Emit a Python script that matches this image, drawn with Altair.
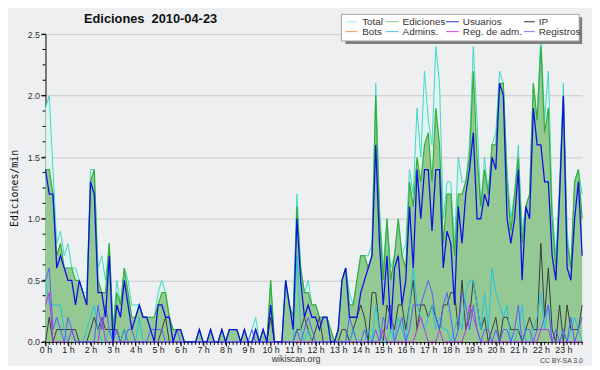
import altair as alt
import pandas as pd

# ---- data: edits per minute, one value per 10-minute slot (24 h x 6) ----
hour_labels = [f"{h} h" for h in range(24)]
y_ticks = [0.0, 0.5, 1.0, 1.5, 2.0, 2.5]

total = [
    1.9, 2.0, 1.4, 0.8, 0.9, 0.7,
    0.8, 0.6, 0.6, 0.5, 0.4, 0.4,
    1.4, 1.4, 0.6, 0.7, 0.5, 0.8,
    0.1, 0.5, 0.3, 0.6, 0.5, 0.3,
    0.3, 0.3, 0.2, 0.2, 0.2, 0.2,
    0.4, 0.5, 0.4, 0.2, 0.1, 0.1,
    0.1, 0.0, 0.0, 0.0, 0.0, 0.1,
    0.0, 0.0, 0.1, 0.0, 0.0, 0.1,
    0.0, 0.1, 0.1, 0.1, 0.0, 0.1,
    0.0, 0.1, 0.2, 0.0, 0.1, 0.0,
    0.5, 0.0, 0.0, 0.0, 0.5, 0.3,
    0.2, 1.2, 0.6, 0.4, 0.5, 0.3,
    0.3, 0.2, 0.2, 0.2, 0.1, 0.0,
    0.1, 0.5, 0.6, 0.4, 0.3, 0.5,
    0.7, 0.7, 0.7, 0.8, 2.1, 1.1,
    0.6, 1.0, 0.6, 0.7, 1.0, 0.7,
    0.8, 1.4, 1.2, 1.9, 1.5, 2.2,
    1.8, 1.6, 2.4, 2.1, 1.0, 1.3,
    1.3, 0.8, 1.5, 1.3, 1.3, 1.6,
    2.4, 1.8, 1.1, 1.5, 1.2, 1.6,
    1.7, 2.2, 2.1, 1.4, 1.0, 1.2,
    1.6, 0.9, 1.1, 1.2, 2.1, 1.8,
    2.5, 1.8, 2.2, 1.1, 0.7, 1.3,
    2.1, 0.9, 0.6, 1.3, 1.4, 1.2,
]

ediciones = [
    1.4, 1.4, 1.2, 0.7, 0.8, 0.6,
    0.6, 0.6, 0.5, 0.5, 0.4, 0.3,
    1.3, 1.4, 0.5, 0.4, 0.4, 0.8,
    0.1, 0.4, 0.3, 0.6, 0.4, 0.2,
    0.2, 0.3, 0.2, 0.2, 0.2, 0.2,
    0.3, 0.4, 0.4, 0.2, 0.1, 0.1,
    0.1, 0.0, 0.0, 0.0, 0.0, 0.1,
    0.0, 0.0, 0.1, 0.0, 0.0, 0.1,
    0.0, 0.1, 0.1, 0.1, 0.0, 0.1,
    0.0, 0.0, 0.1, 0.0, 0.1, 0.0,
    0.5, 0.0, 0.0, 0.0, 0.5, 0.3,
    0.2, 1.1, 0.6, 0.4, 0.4, 0.3,
    0.3, 0.2, 0.2, 0.2, 0.1, 0.0,
    0.1, 0.5, 0.6, 0.3, 0.3, 0.5,
    0.7, 0.7, 0.6, 0.7, 2.0, 1.0,
    0.5, 1.0, 0.5, 0.7, 1.0, 0.7,
    0.6, 1.3, 1.1, 1.5, 1.3, 1.6,
    1.7, 1.3, 1.9, 1.6, 0.8, 1.2,
    1.2, 0.7, 1.2, 1.2, 1.3, 1.5,
    2.2, 1.5, 1.1, 1.4, 1.2, 1.6,
    1.6, 2.1, 2.1, 1.3, 0.9, 1.2,
    1.5, 0.8, 1.1, 1.2, 2.1, 1.8,
    2.4, 1.7, 1.9, 1.0, 0.6, 1.2,
    2.0, 0.8, 0.6, 1.3, 1.4, 1.0,
]

usuarios = [
    1.4, 1.2, 1.2, 0.6, 0.7, 0.6,
    0.5, 0.5, 0.3, 0.5, 0.4, 0.3,
    1.3, 1.2, 0.4, 0.4, 0.2, 0.7,
    0.0, 0.3, 0.2, 0.5, 0.3, 0.1,
    0.2, 0.3, 0.2, 0.2, 0.1, 0.0,
    0.3, 0.3, 0.2, 0.2, 0.0, 0.1,
    0.1, 0.0, 0.0, 0.0, 0.0, 0.1,
    0.0, 0.0, 0.1, 0.0, 0.0, 0.1,
    0.0, 0.1, 0.1, 0.1, 0.0, 0.1,
    0.0, 0.0, 0.1, 0.0, 0.1, 0.0,
    0.3, 0.0, 0.0, 0.0, 0.5, 0.3,
    0.1, 1.0, 0.5, 0.2, 0.3, 0.2,
    0.2, 0.1, 0.2, 0.2, 0.0, 0.0,
    0.1, 0.5, 0.6, 0.2, 0.2, 0.2,
    0.4, 0.5, 0.6, 0.7, 1.6, 0.8,
    0.3, 0.7, 0.1, 0.6, 0.7, 0.3,
    0.5, 1.1, 0.6, 1.4, 1.0, 1.4,
    1.4, 0.9, 1.4, 1.4, 0.6, 0.9,
    0.8, 0.3, 1.1, 0.8, 1.2, 1.4,
    1.7, 1.0, 1.0, 1.2, 1.1, 1.5,
    1.4, 2.1, 2.0, 1.0, 0.8, 1.0,
    1.4, 0.5, 1.1, 1.0, 1.9, 1.6,
    1.6, 1.3, 1.3, 0.7, 0.5, 1.2,
    2.0, 0.6, 0.5, 1.0, 1.3, 0.7,
]

ip = [
    0.0, 0.2, 0.0, 0.1, 0.1, 0.1,
    0.1, 0.1, 0.1, 0.0, 0.0, 0.0,
    0.1, 0.2, 0.1, 0.2, 0.1, 0.1,
    0.1, 0.1, 0.0, 0.1, 0.0, 0.0,
    0.0, 0.0, 0.0, 0.0, 0.0, 0.0,
    0.0, 0.1, 0.2, 0.0, 0.0, 0.0,
    0.0, 0.0, 0.0, 0.0, 0.0, 0.0,
    0.0, 0.0, 0.0, 0.0, 0.0, 0.0,
    0.0, 0.0, 0.0, 0.0, 0.0, 0.0,
    0.0, 0.0, 0.0, 0.0, 0.0, 0.0,
    0.2, 0.0, 0.0, 0.0, 0.0, 0.0,
    0.0, 0.1, 0.1, 0.2, 0.1, 0.0,
    0.1, 0.2, 0.0, 0.0, 0.0, 0.0,
    0.0, 0.1, 0.1, 0.0, 0.1, 0.2,
    0.3, 0.2, 0.0, 0.4, 0.4, 0.1,
    0.0, 0.3, 0.2, 0.1, 0.3, 0.3,
    0.1, 0.3, 0.5, 0.1, 0.3, 0.3,
    0.2, 0.3, 0.2, 0.1, 0.3, 0.3,
    0.4, 0.4, 0.1, 0.5, 0.1, 0.2,
    0.5, 0.3, 0.1, 0.2, 0.0, 0.1,
    0.2, 0.0, 0.2, 0.2, 0.1, 0.1,
    0.1, 0.0, 0.1, 0.2, 0.1, 0.1,
    0.8, 0.2, 0.6, 0.1, 0.0, 0.3,
    0.0, 0.3, 0.1, 0.1, 0.1, 0.3,
]

admins = [
    0.5, 0.3, 0.3, 0.3, 0.3, 0.1,
    0.0, 0.1, 0.0, 0.0, 0.0, 0.1,
    0.2, 0.3, 0.1, 0.0, 0.0, 0.1,
    0.0, 0.0, 0.0, 0.1, 0.0, 0.0,
    0.0, 0.2, 0.0, 0.0, 0.0, 0.0,
    0.0, 0.0, 0.0, 0.0, 0.0, 0.0,
    0.0, 0.0, 0.0, 0.0, 0.0, 0.0,
    0.0, 0.0, 0.0, 0.0, 0.0, 0.0,
    0.0, 0.0, 0.0, 0.0, 0.0, 0.0,
    0.0, 0.0, 0.0, 0.0, 0.0, 0.0,
    0.0, 0.0, 0.0, 0.0, 0.0, 0.0,
    0.0, 0.7, 0.1, 0.0, 0.1, 0.0,
    0.0, 0.0, 0.0, 0.0, 0.0, 0.0,
    0.0, 0.0, 0.0, 0.0, 0.1, 0.0,
    0.0, 0.0, 0.1, 0.0, 0.3, 0.1,
    0.0, 0.0, 0.1, 0.0, 0.2, 0.1,
    0.0, 0.3, 0.6, 0.3, 0.2, 0.1,
    0.2, 0.3, 0.1, 0.2, 0.1, 0.1,
    0.0, 0.1, 0.2, 0.1, 0.4, 0.5,
    0.5, 0.3, 0.1, 0.4, 0.1, 0.6,
    0.4, 0.3, 0.2, 0.3, 0.0, 0.0,
    0.1, 0.3, 0.0, 0.0, 0.1, 0.2,
    0.4, 0.1, 0.3, 0.0, 0.0, 0.0,
    0.1, 0.0, 0.1, 0.2, 0.1, 0.0,
]

registros = [
    0.5, 0.6, 0.1, 0.2, 0.1, 0.0,
    0.2, 0.1, 0.0, 0.0, 0.0, 0.0,
    0.0, 0.0, 0.3, 0.1, 0.3, 0.1,
    0.0, 0.1, 0.0, 0.0, 0.1, 0.1,
    0.0, 0.0, 0.0, 0.0, 0.1, 0.1,
    0.1, 0.1, 0.0, 0.0, 0.0, 0.1,
    0.0, 0.0, 0.0, 0.0, 0.0, 0.0,
    0.0, 0.0, 0.0, 0.0, 0.0, 0.0,
    0.0, 0.0, 0.0, 0.0, 0.0, 0.0,
    0.0, 0.1, 0.0, 0.0, 0.0, 0.0,
    0.0, 0.0, 0.0, 0.0, 0.0, 0.0,
    0.0, 0.1, 0.0, 0.1, 0.2, 0.1,
    0.0, 0.0, 0.0, 0.0, 0.0, 0.0,
    0.0, 0.0, 0.0, 0.2, 0.1, 0.0,
    0.0, 0.1, 0.0, 0.0, 0.1, 0.0,
    0.2, 0.1, 0.3, 0.0, 0.1, 0.2,
    0.0, 0.1, 0.3, 0.3, 0.3, 0.4,
    0.5, 0.4, 0.2, 0.1, 0.3, 0.4,
    0.2, 0.0, 0.1, 0.4, 0.3, 0.1,
    0.3, 0.1, 0.0, 0.1, 0.1, 0.0,
    0.1, 0.0, 0.1, 0.1, 0.0, 0.1,
    0.3, 0.0, 0.1, 0.1, 0.0, 0.1,
    0.1, 0.2, 0.3, 0.0, 0.1, 0.0,
    0.1, 0.0, 0.2, 0.0, 0.1, 0.2,
]

reg_adm = [
    0.3, 0.4, 0.0, 0.0, 0.0, 0.0,
    0.0, 0.1, 0.0, 0.0, 0.0, 0.0,
    0.0, 0.0, 0.0, 0.2, 0.0, 0.0,
    0.0, 0.0, 0.0, 0.0, 0.0, 0.0,
    0.0, 0.0, 0.0, 0.0, 0.0, 0.0,
    0.0, 0.0, 0.0, 0.0, 0.0, 0.0,
    0.0, 0.0, 0.0, 0.0, 0.0, 0.0,
    0.0, 0.0, 0.0, 0.0, 0.0, 0.0,
    0.0, 0.0, 0.0, 0.0, 0.0, 0.0,
    0.0, 0.0, 0.0, 0.0, 0.0, 0.0,
    0.0, 0.0, 0.0, 0.0, 0.0, 0.0,
    0.0, 0.0, 0.0, 0.0, 0.0, 0.0,
    0.0, 0.0, 0.0, 0.0, 0.0, 0.0,
    0.0, 0.0, 0.0, 0.0, 0.0, 0.0,
    0.0, 0.0, 0.0, 0.0, 0.0, 0.0,
    0.1, 0.0, 0.0, 0.0, 0.0, 0.0,
    0.0, 0.0, 0.0, 0.1, 0.2, 0.1,
    0.0, 0.0, 0.0, 0.1, 0.0, 0.0,
    0.0, 0.0, 0.0, 0.0, 0.1, 0.3,
    0.2, 0.1, 0.0, 0.0, 0.0, 0.0,
    0.0, 0.0, 0.0, 0.0, 0.0, 0.0,
    0.0, 0.0, 0.0, 0.0, 0.0, 0.0,
    0.1, 0.1, 0.1, 0.0, 0.0, 0.0,
    0.0, 0.0, 0.0, 0.0, 0.0, 0.0,
]

legend_names = ["Total", "Ediciones", "Usuarios", "IP",
                "Bots", "Admins.", "Reg. de adm.", "Registros"]
legend_colors = ["#a6e8e0", "#7fcf7f", "#2a2ae0", "#303030",
                 "#f0a040", "#40c8e0", "#d040e0", "#7878ff"]

# ---- layout ----
W, H = 544, 312
BG = "#eeeff1"
n = len(total)
slot = [i / 6 for i in range(n)]
df = pd.DataFrame({
    "t": slot, "Total": total, "Ediciones": ediciones, "Usuarios": usuarios,
    "IP": ip, "Admins": admins, "Registros": registros, "RegAdm": reg_adm,
})

xs = alt.Scale(domain=[0, (n - 1) / 6], nice=False, zero=False)
ys = alt.Scale(domain=[0, 2.5], nice=False)

x_axis = alt.Axis(values=list(range(24)), labelExpr="datum.value + ' h'",
                  tickSize=4, tickColor="#000", domainColor="#000",
                  labelPadding=0, labelFontSize=9, labelFont="Liberation Sans",
                  labelColor="#222", grid=False, title=None, labelFlush=False,
                  labelOverlap=False)
y_axis = alt.Axis(values=y_ticks, format=".1f", tickSize=5, tickColor="#000",
                  domainColor="#000", labelPadding=1, labelFontSize=9,
                  labelFont="Liberation Sans", labelColor="#333",
                  grid=True, gridColor="#c9c9c9", gridWidth=1,
                  title="Ediciones/min", titleFont="DejaVu Sans Mono",
                  titleFontSize=10, titleFontWeight="normal", titleColor="#111",
                  titleX=-31, titleY=H / 2, titleAngle=270,
                  titleAlign="center", titleBaseline="middle",
                  labelFlush=False, labelOverlap=False)

X = lambda f: alt.X(f, scale=xs, axis=x_axis)
Y = lambda f: alt.Y(f, scale=ys, axis=y_axis)

base = alt.Chart(df)

total_area = base.mark_area(color="#dff3ef", opacity=1).encode(
    x=X("t:Q"), y=Y("Total:Q"))
edic_area = base.mark_area(color="#94c994", opacity=1).encode(
    x=X("t:Q"), y=Y("Ediciones:Q"))

def line(field, color, width=1.0):
    return base.mark_line(color=color, strokeWidth=width).encode(
        x=X("t:Q"), y=Y(f"{field}:Q"))

lines = [
    line("Total", "#3ed8c8"),
    line("Ediciones", "#34ae34", 1.2),
    line("IP", "#3a3a3a"),
    line("Admins", "#1ec4e2"),
    line("RegAdm", "#c030e0"),
    line("Registros", "#5a5aff"),
    line("Usuarios", "#1010e6", 1.3),
]

# minor ticks
xt = alt.Chart(pd.DataFrame({"t": slot})).mark_rule(color="#000", strokeWidth=1).encode(
    x=X("t:Q"), y=alt.value(H), y2=alt.value(H + 3))
yt_vals = [k * 0.125 for k in range(21)]
yt = alt.Chart(pd.DataFrame({"Total": yt_vals})).mark_rule(color="#000", strokeWidth=1).encode(
    y=Y("Total:Q"), x=alt.value(-3), x2=alt.value(0))

one = pd.DataFrame({"a": [0]})

# legend box
shadow = alt.Chart(one).mark_rect(color="#7d7d7d").encode(
    x=alt.value(304), x2=alt.value(544), y=alt.value(-17), y2=alt.value(10))
box = alt.Chart(one).mark_rect(fill="#ffffff", stroke="#a0a0a0", strokeWidth=1).encode(
    x=alt.value(300), x2=alt.value(541), y=alt.value(-20), y2=alt.value(7))

col_line = [(304, 316), (345, 358), (406, 419), (485, 496)]
col_text = [321, 362, 423, 500]
row_y = [-12.5, -2.5]
leg_layers = [shadow, box]
for k, (name, col) in enumerate(zip(legend_names, legend_colors)):
    r, c = divmod(k, 4)
    leg_layers.append(alt.Chart(one).mark_rule(color=col, strokeWidth=1).encode(
        x=alt.value(col_line[c][0]), x2=alt.value(col_line[c][1]), y=alt.value(row_y[r])))
    leg_layers.append(alt.Chart(one).mark_text(
        text=name, align="left", baseline="middle", fontSize=10,
        font="Liberation Sans", color="#333").encode(
        x=alt.value(col_text[c]), y=alt.value(row_y[r])))

title = alt.Chart(one).mark_text(
    text="Ediciones\u00a0\u00a02010-04-23", align="left", baseline="middle", fontSize=13,
    fontWeight="bold", font="Liberation Sans", color="#111").encode(
    x=alt.value(39), y=alt.value(-15))
site = alt.Chart(one).mark_text(
    text="wikiscan.org", align="center", baseline="middle", fontSize=9,
    font="Liberation Sans", color="#333").encode(x=alt.value(254), y=alt.value(329.5))
lic = alt.Chart(one).mark_text(
    text="CC BY-SA 3.0", align="center", baseline="middle", fontSize=7,
    font="Liberation Sans", color="#444").encode(x=alt.value(523), y=alt.value(331))

chart = alt.layer(
    total_area, edic_area, *lines, xt, yt, *leg_layers, title, site, lic
).properties(
    width=W, height=H,
    padding={"left": 38, "top": 24, "right": 10, "bottom": 22},
    autosize=alt.AutoSizeParams(type="none"),
    background=BG,
).configure_view(strokeWidth=0)

chart.save("out.html", embed_options={"renderer": "svg", "actions": False})
